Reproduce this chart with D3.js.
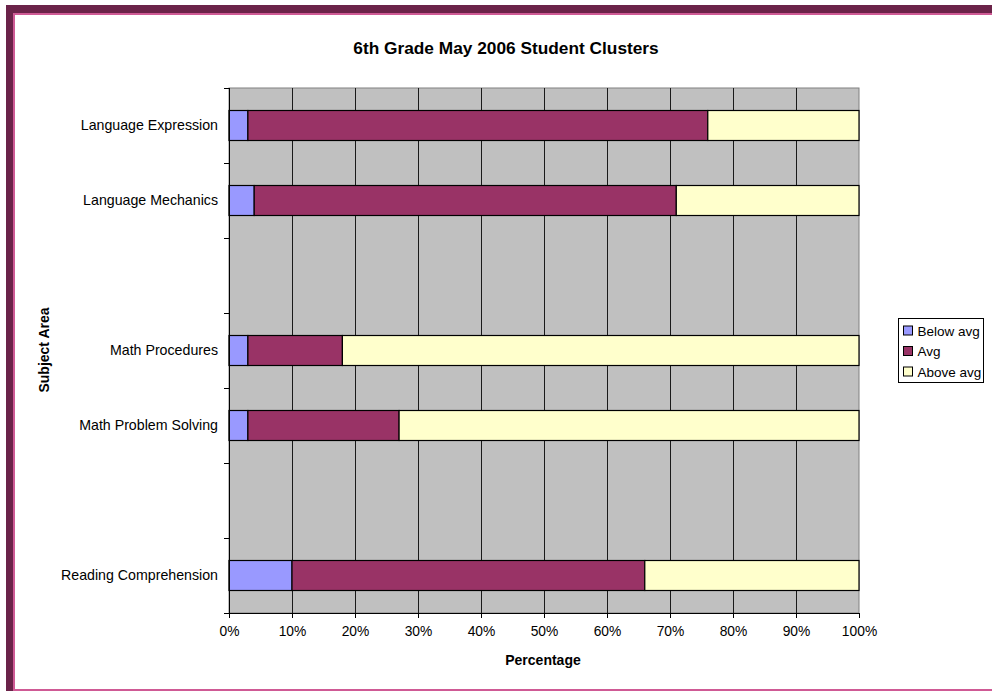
<!DOCTYPE html>
<html>
<head>
<meta charset="utf-8">
<script src="https://cdn.jsdelivr.net/npm/d3@7"></script>
<style>
  body { margin: 0; background: #fff; }
  svg text { font-family: "Liberation Sans", Arial, sans-serif; fill: #000; }
</style>
</head>
<body>
<svg id="chart" width="992" height="691"></svg>
<script>
// categories top to bottom, blank slots kept as in the original sheet
var categories = ["Language Expression", "Language Mechanics", "", "Math Procedures", "Math Problem Solving", "", "Reading Comprehension"];
var belowAvg = [3, 4, null, 3, 3, null, 10];
var avg      = [73, 67, null, 15, 24, null, 56];
var aboveAvg = [24, 29, null, 82, 73, null, 34];
var seriesNames = ["Below avg", "Avg", "Above avg"];
var xTicks = [0, 0.1, 0.2, 0.3, 0.4, 0.5, 0.6, 0.7, 0.8, 0.9, 1];

var colors = ["#9999ff", "#993366", "#ffffcc"];

var svg = d3.select("svg#chart"),
    margin = {top: 88, left: 229, right: 133, bottom: 78},
    width = +svg.attr("width") - margin.left - margin.right,
    height = +svg.attr("height") - margin.top - margin.bottom;

// frame
svg.append("rect")
  .attr("x", 6).attr("y", 5)
  .attr("width", 992).attr("height", 700)
  .attr("fill", "#6b2349");
svg.append("rect")
  .attr("x", 14).attr("y", 14)
  .attr("width", 1000).attr("height", 676)
  .attr("fill", "#fff")
  .attr("stroke", "#cf5a95")
  .attr("stroke-width", 2);

// stack the rows into percentages
var rows = categories.map(function(c, i) {
  var vals = [belowAvg[i], avg[i], aboveAvg[i]];
  if (vals[0] == null) return {idx: i, segs: []};
  var total = d3.sum(vals), x0 = 0;
  return {
    idx: i,
    segs: vals.map(function(v, k) {
      var s = {k: k, x0: x0 / total, x1: (x0 + v) / total};
      x0 += v;
      return s;
    })
  };
});

var x = d3.scaleLinear().domain([0, 1]).range([0, width]);
var y = d3.scaleBand()
  .domain(d3.range(categories.length))
  .range([0, height])
  .paddingInner(0.6)
  .paddingOuter(0.3);

var g = svg.append("g")
  .attr("transform", "translate(" + margin.left + "," + margin.top + ")");

g.append("rect")
  .attr("width", width).attr("height", height)
  .attr("fill", "#c0c0c0")
  .attr("stroke", "#808080");

// vertical gridlines
g.selectAll("line.grid")
  .data(xTicks.slice(1, -1))
  .enter().append("line")
  .attr("class", "grid")
  .attr("x1", function(d) { return Math.round(x(d)) + 0.5; })
  .attr("x2", function(d) { return Math.round(x(d)) + 0.5; })
  .attr("y1", 0).attr("y2", height)
  .attr("stroke", "#1a1a1a");

// bars
g.selectAll("g.row")
  .data(rows)
  .enter().append("g")
  .attr("class", "row")
  .selectAll("rect")
  .data(function(r) { return r.segs.map(function(s) { s.idx = r.idx; return s; }); })
  .enter().append("rect")
  .attr("x", function(d) { return x(d.x0); })
  .attr("width", function(d) { return x(d.x1) - x(d.x0); })
  .attr("y", function(d) { return y(d.idx); })
  .attr("height", y.bandwidth())
  .attr("fill", function(d) { return colors[d.k]; })
  .attr("stroke", "#000")
  .attr("stroke-width", 1.2);

// x axis
var xAxis = g.append("g")
  .attr("transform", "translate(0," + height + ")")
  .call(d3.axisBottom(x).tickValues(xTicks).tickFormat(d3.format(".0%")).tickSize(5).tickSizeOuter(0));
xAxis.select(".domain").attr("stroke", "#000");
xAxis.selectAll("text").attr("font-size", 13.8).attr("dy", "1.1em");

// y axis: ticks at category boundaries, labels at band centres
var step = height / categories.length;
var yAxis = g.append("g");
yAxis.append("line")
  .attr("x1", 0.5).attr("x2", 0.5).attr("y1", 0).attr("y2", height)
  .attr("stroke", "#000");
yAxis.selectAll("line.tick")
  .data(d3.range(categories.length + 1))
  .enter().append("line")
  .attr("class", "tick")
  .attr("x1", -5).attr("x2", 0)
  .attr("y1", function(d) { return Math.round(d * step) + 0.5; })
  .attr("y2", function(d) { return Math.round(d * step) + 0.5; })
  .attr("stroke", "#000");
yAxis.selectAll("text")
  .data(categories)
  .enter().append("text")
  .attr("x", -11)
  .attr("y", function(d, i) { return y(i) + y.bandwidth() / 2; })
  .attr("dy", "0.35em")
  .attr("text-anchor", "end")
  .attr("font-size", 14.2)
  .text(function(d) { return d; });

// titles
svg.append("text")
  .attr("x", 506).attr("y", 54)
  .attr("text-anchor", "middle")
  .attr("font-size", 17.3).attr("font-weight", "bold")
  .text("6th Grade May 2006 Student Clusters");
svg.append("text")
  .attr("x", 543).attr("y", 665)
  .attr("text-anchor", "middle")
  .attr("font-size", 14).attr("font-weight", "bold")
  .text("Percentage");
svg.append("text")
  .attr("transform", "translate(49,350) rotate(-90)")
  .attr("text-anchor", "middle")
  .attr("font-size", 14).attr("font-weight", "bold")
  .text("Subject Area");

// legend
var legend = svg.append("g").attr("transform", "translate(898.5,318.5)");
legend.append("rect")
  .attr("width", 85).attr("height", 64)
  .attr("fill", "#fff").attr("stroke", "#000");
var item = legend.selectAll("g.item")
  .data(seriesNames)
  .enter().append("g")
  .attr("class", "item")
  .attr("transform", function(d, i) { return "translate(5," + (12 + i * 20.5) + ")"; });
item.append("rect")
  .attr("x", 0).attr("y", -4.5)
  .attr("width", 9).attr("height", 9)
  .attr("fill", function(d, i) { return colors[i]; })
  .attr("stroke", "#000");
item.append("text")
  .attr("x", 14).attr("dy", "0.37em")
  .attr("font-size", 13.5)
  .text(function(d) { return d; });
</script>
</body>
</html>
